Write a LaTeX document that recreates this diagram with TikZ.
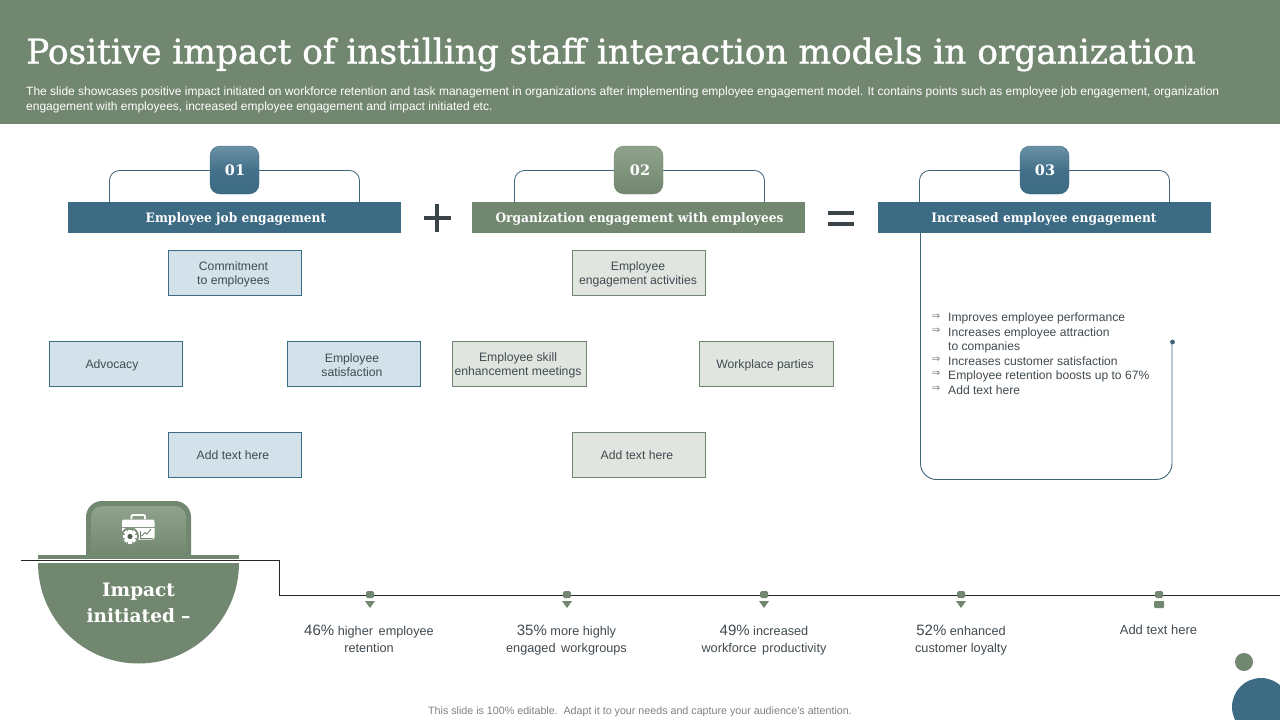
\documentclass[tikz,border=0pt]{standalone}
\usepackage{fontspec}
\setmainfont{Liberation Sans}
\newfontfamily\slabfont{DejaVu Serif}
\newfontfamily\slabtitle[FakeBold=1.2]{DejaVu Serif}
\newfontfamily\slabhead[FakeStretch=0.94]{DejaVu Serif}
\newfontfamily\symfont{DejaVu Sans}
\usetikzlibrary{calc}
\definecolor{sage}{HTML}{72876F}
\definecolor{sagelight}{HTML}{8FA38C}
\definecolor{steel}{HTML}{3D6B84}
\definecolor{steellight}{HTML}{6B92A6}
\definecolor{boxblue}{HTML}{D2E1EA}
\definecolor{boxgreen}{HTML}{E0E5DF}
\definecolor{inkgray}{HTML}{404A50}
\definecolor{linecol}{HTML}{3F6377}
\tikzset{
  txt/.style={inner sep=0pt,align=center,text=inkgray,font=\fontsize{12.2}{14}\selectfont},
  bluebox/.style={draw=steel,fill=boxblue,line width=.8pt,minimum width=133.5pt,minimum height=45.5pt,inner sep=0pt},
  greenbox/.style={draw=sage,fill=boxgreen,line width=.8pt,minimum width=133.5pt,minimum height=45.5pt,inner sep=0pt},
  header/.style={inner sep=0pt,minimum width=333pt,minimum height=31pt},
  headtext/.style={inner sep=0pt,text=white,font=\slabhead\bfseries\fontsize{13}{15}\selectfont},
  badge/.style={inner sep=0pt,minimum width=49pt,minimum height=48pt,rounded corners=10pt},
  badgetext/.style={inner sep=0pt,text=white,font=\slabfont\bfseries\fontsize{14.5}{18}\selectfont},
  bracketline/.style={draw=linecol,line width=.8pt,rounded corners=10pt},
  tick/.style={inner sep=0pt,minimum width=8pt,minimum height=7pt,fill=sage,rounded corners=1.5pt},
  caption/.style={inner sep=0pt,align=center,text=inkgray,font=\fontsize{12.7}{17}\selectfont},
  bullettext/.style={anchor=west,inner sep=0pt,text=inkgray,font=\fontsize{12.1}{14}\selectfont},
  arrowbullet/.style={inner sep=0pt,text=gray,font=\symfont\fontsize{10.5}{10.5}\selectfont},
}
\newcommand{\tri}[2]{\fill[sage] (#1-5,#2) -- (#1+5,#2) -- (#1,#2+7) -- cycle;}
\newcommand{\bignum}[1]{{\fontsize{15}{17}\selectfont #1}}
\begin{document}
\begin{tikzpicture}[x=1pt,y=-1pt]
\useasboundingbox (0,0) rectangle (1280,720);
% title band
\fill[sage] (0,0) rectangle (1280,124);
\node[anchor=west,inner sep=0pt,text=white,font=\slabtitle\fontsize{34.3}{38}\selectfont] (title) at (26,54.5) {Positive impact of instilling staff interaction models in organization};
\node[anchor=north west,inner sep=0pt,text=white,align=left,font=\fontsize{12}{14.6}\selectfont] (subtitle) at (26,87) {The slide showcases positive impact initiated on workforce retention and task management in organizations after implementing employee engagement model. It contains points such as employee job engagement, organization\\engagement with employees, increased employee engagement and impact initiated etc.};
% headers
\node[header,fill=steel] (h1) at (234.5,217.5) {};
\node[header,fill=sage] (h2) at (638.5,217.5) {};
\node[header,fill=steel] (h3) at (1044.5,217.5) {};
\node[headtext] (ht1) at (236,219.5) {Employee job engagement};
\node[headtext] (ht2) at (639.5,219.5) {Organization engagement with employees};
\node[headtext] (ht3) at (1044,219.5) {Increased employee engagement};
% brackets
\coordinate (b1l) at (109.5,202); \coordinate (b1r) at (359.5,202);
\coordinate (b2l) at (514.5,202); \coordinate (b2r) at (764.5,202);
\coordinate (b3l) at (919.5,202); \coordinate (b3r) at (1169.5,202);
\draw[bracketline] (b1l) |- (234.5,170.5) -| (b1r);
\draw[bracketline] (b2l) |- (639,170.5) -| (b2r);
\draw[bracketline] (b3l) |- (1044.5,170.5) -| (b3r);
% badges
\node[badge,top color=steellight,bottom color=steel,middle color=steel!85!steellight,draw=steel] (n1) at (234.5,170) {};
\node[badge,top color=sagelight,bottom color=sage,draw=sage] (n2) at (638.5,170) {};
\node[badge,top color=steellight,bottom color=steel,middle color=steel!85!steellight,draw=steel] (n3) at (1044.5,170) {};
\node[badgetext] (nt1) at (235,170.5) {01};
\node[badgetext] (nt2) at (640,170.5) {02};
\node[badgetext] (nt3) at (1045,170.5) {03};
% operators
\fill[inkgray!90!black] (423.5,216) rectangle (450.5,220);
\fill[inkgray!90!black] (435,204) rectangle (439,232);
\fill[inkgray!90!black] (828,211) rectangle (854,214.5);
\fill[inkgray!90!black] (828,222) rectangle (854,226);
% blue boxes
\node[bluebox] (c1) at (235,273) {};
\node[bluebox] (c2) at (116,364) {};
\node[bluebox] (c3) at (354,364) {};
\node[bluebox] (c4) at (235,455) {};
\node[txt] (ct1) at (233.5,274.2) {Commitment\\to employees};
\node[txt] (ct2) at (112,365) {Advocacy};
\node[txt] (ct3) at (352,365.2) {Employee\\satisfaction};
\node[txt] (ct4) at (233,455.5) {Add text here};
% green boxes
\node[greenbox] (d1) at (639,273) {};
\node[greenbox] (d2) at (519.5,364) {};
\node[greenbox] (d3) at (766.5,364) {};
\node[greenbox] (d4) at (639,455) {};
\node[txt] (dt1) at (638,274.2) {Employee\\engagement activities};
\node[txt] (dt2) at (518,365.2) {Employee skill\\enhancement meetings};
\node[txt] (dt3) at (765,365) {Workplace parties};
\node[txt] (dt4) at (637,455.5) {Add text here};
% result panel
\coordinate (panelend) at (1172.5,342);
\draw[draw=linecol,line width=.9pt,rounded corners=16pt] (920.5,233) -- (920.5,479.5) -- (1172,479.5) -- (1172,342);
\fill[linecol] (panelend) circle (2.4);
\foreach \yy/\tt/\nm in {318.8/Improves employee performance/p1,333/Increases employee attraction/p2,346.9/to companies/p2b,361/Increases customer satisfaction/p3,376/Employee retention boosts up to 67\%/p4,390.5/Add text here/p5}{
  \node[bullettext] (\nm) at (948,\yy) {\tt};
}
\foreach \yy/\nm in {317/a1,331/a2,360/a3,374/a4,388.5/a5}{
  \node[arrowbullet] (\nm) at (936,\yy) {⇒};
}
% impact emblem
\fill[sage] (38,555) rectangle (239,558.5);
\fill[sage] (86,556) [rounded corners=16pt] -- (86,501) -- (191,501) [sharp corners] -- (191,556) -- cycle;
\shade[top color=sagelight,bottom color=sage] (91,556) [rounded corners=11pt] -- (91,506) -- (186,506) [sharp corners] -- (186,556) -- cycle;
\fill[sage] (38,563) -- (239,563) arc[start angle=0,end angle=180,radius=100.5] -- cycle;
\node[inner sep=0pt,align=center,text=white,font=\slabfont\bfseries\fontsize{18.5}{26}\selectfont] (impact) at (138.5,602.8) {Impact\\initiated\,\,–};
% icon: briefcase, gear, chart
\fill[white,rounded corners=2pt] (122,519.5) rectangle (154.5,539.5);
\draw[white,line width=1.6pt,rounded corners=1pt] (131.5,519) -- (131.5,515) -- (145,515) -- (145,519);
\fill[sage!85!white] (122,526.5) rectangle (154.5,527.2);
\draw[sage,line width=.7pt] (140,531) -- (140,538) -- (152.5,538);
\draw[sage,line width=.9pt] (141.5,536) -- (145,532.5) -- (147,534) -- (151,529);
\fill[sage!90!white] (130,536) circle (9);
\foreach \ang in {0,45,...,315}{
  \fill[white,rotate around={\ang:(130,536.5)}] (128.4,529.5) rectangle (131.6,543.5);
}
\fill[white] (130,536.5) circle (5.6);
\fill[sage!70!black] (130,536.5) circle (2.6);
% timeline
\coordinate (tl0) at (21,560.5); \coordinate (tl1) at (1280,595.5);
\draw[white,line width=3pt] (38,560.5) -- (239,560.5);
\draw[black!85,line width=1pt] (tl0) -- (279.5,560.5) |- (tl1);
% markers
\foreach \xx/\nm in {370/m1,567/m2,764/m3,961/m4,1159/m5}{
  \node[tick] (\nm) at (\xx,594.5) {};
}
\tri{370}{601}\tri{567}{601}\tri{764}{601}\tri{961}{601}
\fill[sage,rounded corners=1pt] (1154,601) rectangle (1164,608);
% captions
\node[caption] (t1) at (369,639) {\bignum{46\%} higher\, employee\\retention};
\node[caption] (t2) at (566.5,639.8) {\bignum{35\%} more highly\\engaged\, workgroups};
\node[caption] (t3) at (764,639.8) {\bignum{49\%} increased\\workforce\, productivity};
\node[caption] (t4) at (961,639.8) {\bignum{52\%} enhanced\\customer loyalty};
\node[caption,font=\fontsize{13}{15}\selectfont] (t5) at (1158.5,630) {Add text here};
% footer
\node[inner sep=0pt,text=gray,font=\fontsize{10.7}{12}\selectfont] (footer) at (640,711.5) {This slide is 100\% editable.\, Adapt it to your needs and capture your audience's attention.};
% decoration
\fill[sage] (1244,662) circle (9);
\begin{scope}
\clip (1200,660) rectangle (1280,720);
\fill[steel] (1261,707) circle (29);
\end{scope}
\end{tikzpicture}
\end{document}
